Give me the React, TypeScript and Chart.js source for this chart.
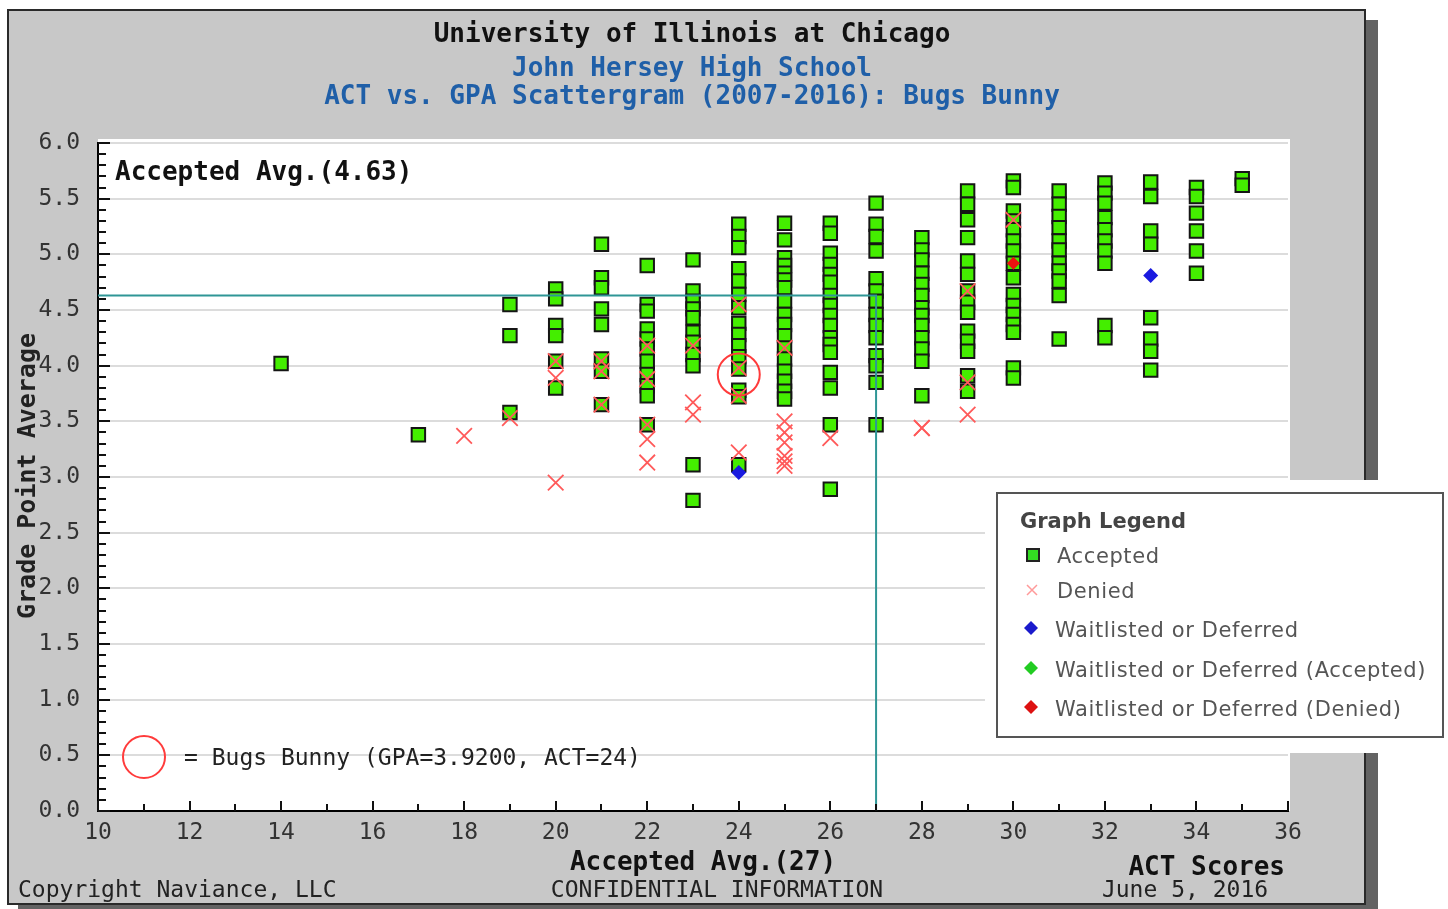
import React, { useEffect, useRef } from 'react';
import { Chart, registerables } from 'chart.js';

Chart.register(...registerables);

// ---------- DATA ----------
const accepted: [number, number][] = [
  [14, 4.02],
  [17, 3.38],
  [19, 4.55], [19, 4.27], [19, 3.58],
  [20, 4.69], [20, 4.6], [20, 4.36], [20, 4.27], [20, 4.04], [20, 3.8],
  [21, 5.09], [21, 4.79], [21, 4.7], [21, 4.51], [21, 4.37], [21, 4.06], [21, 3.95], [21, 3.65],
  [22, 4.9], [22, 4.55], [22, 4.49], [22, 4.33], [22, 4.24], [22, 4.15], [22, 4.04], [22, 3.92], [22, 3.82], [22, 3.73], [22, 3.47],
  [23, 4.95], [23, 4.67], [23, 4.58], [23, 4.51], [23, 4.43], [23, 4.3], [23, 4.21], [23, 4.1], [23, 4.0], [23, 3.11], [23, 2.79],
  [24, 5.27], [24, 5.16], [24, 5.06], [24, 4.87], [24, 4.76], [24, 4.64], [24, 4.52], [24, 4.38], [24, 4.28], [24, 4.18], [24, 4.08], [24, 3.97], [24, 3.78], [24, 3.72], [24, 3.11],
  [25, 5.28], [25, 5.13], [25, 4.97], [25, 4.9], [25, 4.83], [25, 4.77], [25, 4.7], [25, 4.58], [25, 4.46], [25, 4.37], [25, 4.27], [25, 4.16], [25, 4.06], [25, 3.95], [25, 3.86], [25, 3.77], [25, 3.7],
  [26, 5.28], [26, 5.19], [26, 5.01], [26, 4.91], [26, 4.82], [26, 4.75], [26, 4.63], [26, 4.54], [26, 4.45], [26, 4.36], [26, 4.25], [26, 4.19], [26, 4.12], [26, 3.94], [26, 3.8], [26, 3.47], [26, 2.89],
  [27, 5.46], [27, 5.27], [27, 5.16], [27, 5.03], [27, 4.78], [27, 4.67], [27, 4.58], [27, 4.46], [27, 4.36], [27, 4.25], [27, 4.09], [27, 4.0], [27, 3.85], [27, 3.47],
  [28, 5.15], [28, 5.04], [28, 4.95], [28, 4.83], [28, 4.73], [28, 4.63], [28, 4.52], [28, 4.45], [28, 4.36], [28, 4.25], [28, 4.15], [28, 4.04], [28, 3.73],
  [29, 5.57], [29, 5.45], [29, 5.31], [29, 5.15], [29, 4.94], [29, 4.82], [29, 4.67], [29, 4.57], [29, 4.48], [29, 4.31], [29, 4.22], [29, 4.13], [29, 3.91], [29, 3.77],
  [30, 5.66], [30, 5.6], [30, 5.39], [30, 5.3], [30, 5.22], [30, 5.12], [30, 5.03], [30, 4.92], [30, 4.79], [30, 4.64], [30, 4.54], [30, 4.46], [30, 4.37], [30, 4.3], [30, 3.98], [30, 3.89],
  [31, 5.57], [31, 5.45], [31, 5.34], [31, 5.24], [31, 5.12], [31, 5.04], [31, 4.92], [31, 4.85], [31, 4.76], [31, 4.63], [31, 4.24],
  [32, 5.64], [32, 5.55], [32, 5.46], [32, 5.33], [32, 5.22], [32, 5.12], [32, 5.03], [32, 4.92], [32, 4.36], [32, 4.25],
  [33, 5.65], [33, 5.52], [33, 5.21], [33, 5.09], [33, 4.43], [33, 4.24], [33, 4.13], [33, 3.96],
  [34, 5.6], [34, 5.52], [34, 5.37], [34, 5.21], [34, 5.03], [34, 4.83],
  [35, 5.68], [35, 5.62],
];

const denied: [number, number][] = [
  [18, 3.37],
  [19, 3.53],
  [20, 4.04], [20, 3.89], [20, 2.95],
  [21, 4.04], [21, 3.95], [21, 3.65],
  [22, 4.18], [22, 3.88], [22, 3.47], [22, 3.34], [22, 3.13],
  [23, 4.18], [23, 3.67], [23, 3.56],
  [24, 4.55], [24, 3.98], [24, 3.73], [24, 3.22],
  [25, 4.16], [25, 3.5], [25, 3.4], [25, 3.31], [25, 3.19], [25, 3.14], [25, 3.1],
  [26, 3.35],
  [28, 3.44], [28, 3.44],
  [29, 4.67], [29, 3.85], [29, 3.56],
  [30, 5.31],
];

const waitlisted: [number, number][] = [[24, 3.04], [33, 4.81]];
const waitlistedAccepted: [number, number][] = [];
const waitlistedDenied: [number, number][] = [[30, 4.92]];
const student: [number, number][] = [[24, 3.92]];

const avgGpa = 4.63;
const avgAct = 27;

const titleText = 'University of Illinois at Chicago';
const subtitleText = 'John Hersey High School';
const subtitle2Text = 'ACT vs. GPA Scattergram (2007-2016): Bugs Bunny';
const yTitle = 'Grade Point Average';
const xTitle = 'ACT Scores';
const studentLabel = '= Bugs Bunny (GPA=3.9200, ACT=24)';
const footerLeft = 'Copyright Naviance, LLC';
const footerCenter = 'CONFIDENTIAL INFORMATION';
const footerRight = 'June 5, 2016';
const legendTitle = 'Graph Legend';
const legendLabels = [
  'Accepted',
  'Denied',
  'Waitlisted or Deferred',
  'Waitlisted or Deferred (Accepted)',
  'Waitlisted or Deferred (Denied)',
];

// ---------- STYLE ----------
const MONO = "'DejaVu Sans Mono', 'Liberation Mono', monospace";
const SANS = "'DejaVu Sans', sans-serif";
const GREEN = '#44ee00';
const XRED = '#ff5a5a';
const TEAL = '#2f9696';

const toPts = (a: [number, number][]) => a.map(([x, y]) => ({ x, y }));

function diamond(ctx: CanvasRenderingContext2D, x: number, y: number, r: number, color: string) {
  ctx.beginPath();
  ctx.moveTo(x - r, y);
  ctx.lineTo(x, y - r);
  ctx.lineTo(x + r, y);
  ctx.lineTo(x, y + r);
  ctx.closePath();
  ctx.fillStyle = color;
  ctx.fill();
}

const decor = {
  id: 'decor',
  beforeDraw(chart: any) {
    const ctx: CanvasRenderingContext2D = chart.ctx;
    const { left, top, right, bottom } = chart.chartArea;
    ctx.save();
    ctx.fillStyle = '#ffffff';
    ctx.fillRect(0, 0, chart.width, chart.height);
    // shadow
    ctx.fillStyle = '#636363';
    ctx.fillRect(1366, 20, 12, 889);
    ctx.fillRect(18, 904, 1360, 5);
    // panel
    ctx.fillStyle = '#c8c8c8';
    ctx.fillRect(8, 10, 1357, 894);
    ctx.strokeStyle = '#2a2a2a';
    ctx.lineWidth = 2;
    ctx.strokeRect(8, 10, 1357, 894);
    // plot background
    ctx.fillStyle = '#ffffff';
    ctx.fillRect(left, top - 4, right + 2 - left, bottom - top + 4);
    ctx.restore();
  },
  afterDatasetsDraw(chart: any) {
    const ctx: CanvasRenderingContext2D = chart.ctx;
    const xs = chart.scales.x;
    const ys = chart.scales.y;
    const { left, bottom } = chart.chartArea;
    ctx.save();
    // average lines
    ctx.strokeStyle = TEAL;
    ctx.lineWidth = 2;
    const ay = ys.getPixelForValue(avgGpa);
    const ax = xs.getPixelForValue(avgAct);
    ctx.beginPath();
    ctx.moveTo(left, ay);
    ctx.lineTo(ax, ay);
    ctx.lineTo(ax, bottom);
    ctx.stroke();
    ctx.restore();
  },
  afterDraw(chart: any) {
    const ctx: CanvasRenderingContext2D = chart.ctx;
    const xs = chart.scales.x;
    const ys = chart.scales.y;
    const { left, bottom } = chart.chartArea;
    ctx.save();

    // tick marks (inside)
    ctx.strokeStyle = '#111';
    ctx.lineWidth = 2;
    ctx.beginPath();
    for (let v = 10; v <= 36; v++) {
      const px = Math.round(xs.getPixelForValue(v));
      const len = v % 2 === 0 ? 10 : 7;
      ctx.moveTo(px, bottom);
      ctx.lineTo(px, bottom - len);
    }
    for (let i = 0; i <= 60; i++) {
      const py = Math.round(ys.getPixelForValue(i / 10));
      const len = i % 5 === 0 ? 12 : 8;
      ctx.moveTo(left, py);
      ctx.lineTo(left + len, py);
    }
    ctx.stroke();

    // titles
    ctx.textAlign = 'center';
    ctx.textBaseline = 'alphabetic';
    ctx.font = `bold 26px ${MONO}`;
    ctx.fillStyle = '#111';
    ctx.fillText(titleText, 692, 42);
    ctx.fillStyle = '#1f5fa8';
    ctx.fillText(subtitleText, 692, 76);
    ctx.fillText(subtitle2Text, 692, 104);

    // accepted avg labels
    ctx.fillStyle = '#111';
    ctx.textAlign = 'left';
    ctx.fillText(`Accepted Avg.(${avgGpa.toFixed(2)})`, 115, 180);
    ctx.textAlign = 'center';
    ctx.fillText(`Accepted Avg.(${avgAct})`, 703, 870);
    ctx.textAlign = 'right';
    ctx.fillText(xTitle, 1285, 875);

    // y title
    ctx.save();
    ctx.translate(28, 476);
    ctx.rotate(-Math.PI / 2);
    ctx.textAlign = 'center';
    ctx.textBaseline = 'middle';
    ctx.font = `bold 25px ${MONO}`;
    ctx.fillStyle = '#222';
    ctx.fillText(yTitle, 0, 0);
    ctx.restore();

    // footer
    ctx.font = `23px ${MONO}`;
    ctx.fillStyle = '#222';
    ctx.textAlign = 'left';
    ctx.fillText(footerLeft, 18, 897);
    ctx.textAlign = 'center';
    ctx.fillText(footerCenter, 717, 897);
    ctx.fillText(footerRight, 1185, 897);

    // student key
    ctx.strokeStyle = '#ff3b3b';
    ctx.lineWidth = 2;
    ctx.beginPath();
    ctx.arc(144, 757, 21, 0, Math.PI * 2);
    ctx.stroke();
    ctx.fillStyle = '#222';
    ctx.textAlign = 'left';
    ctx.fillText(studentLabel, 184, 765);

    // legend patch + box
    ctx.fillStyle = '#ffffff';
    ctx.fillRect(985, 480, 463, 273);
    ctx.strokeStyle = '#555';
    ctx.lineWidth = 2;
    ctx.strokeRect(997, 493, 446, 244);
    ctx.fillStyle = '#444';
    ctx.font = `bold 21px ${SANS}`;
    ctx.fillText(legendTitle, 1020, 528);

    const rows = [563, 598, 637, 677, 716];
    // accepted square
    ctx.fillStyle = '#33dd22';
    ctx.fillRect(1027, 549, 12, 12);
    ctx.strokeStyle = '#222';
    ctx.lineWidth = 2;
    ctx.strokeRect(1027, 549, 12, 12);
    // denied x
    ctx.strokeStyle = '#ff9a9a';
    ctx.lineWidth = 1.5;
    ctx.beginPath();
    ctx.moveTo(1027, 585);
    ctx.lineTo(1037, 595);
    ctx.moveTo(1037, 585);
    ctx.lineTo(1027, 595);
    ctx.stroke();
    diamond(ctx, 1031, 628, 7, '#1a1acc');
    diamond(ctx, 1031, 668, 7, '#22cc22');
    diamond(ctx, 1031, 707, 7, '#dd1111');
    ctx.font = `21px ${SANS}`;
    ctx.fillStyle = '#555';
    (ctx as any).letterSpacing = '0.6px';
    const lx = [1057, 1057, 1055, 1055, 1055];
    legendLabels.forEach((t, i) => ctx.fillText(t, lx[i], rows[i]));
    (ctx as any).letterSpacing = '0px';

    ctx.restore();
  },
};

export default function App() {
  const ref = useRef<HTMLCanvasElement>(null);
  useEffect(() => {
    if (!ref.current) return;
    const tickFont = { family: MONO, size: 23 };
    const chart = new Chart(ref.current, {
      type: 'scatter',
      data: {
        datasets: [
          {
            label: 'Student',
            data: toPts(student),
            pointStyle: 'circle',
            pointRadius: 21,
            backgroundColor: 'rgba(0,0,0,0)',
            borderColor: '#ff3b3b',
            borderWidth: 2,
            order: 0,
          },
          {
            label: 'Waitlisted or Deferred (Denied)',
            data: toPts(waitlistedDenied),
            pointStyle: 'rectRot',
            pointRadius: 6.5,
            backgroundColor: '#ee1111',
            borderColor: '#ee1111',
            borderWidth: 0,
            order: 1,
          },
          {
            label: 'Waitlisted or Deferred (Accepted)',
            data: toPts(waitlistedAccepted),
            pointStyle: 'rectRot',
            pointRadius: 7,
            backgroundColor: '#22cc22',
            borderWidth: 0,
            order: 1,
          },
          {
            label: 'Waitlisted or Deferred',
            data: toPts(waitlisted),
            pointStyle: 'rectRot',
            pointRadius: 7.5,
            backgroundColor: '#1a1ae0',
            borderColor: '#1a1ae0',
            borderWidth: 0,
            order: 1,
          },
          {
            label: 'Denied',
            data: toPts(denied),
            pointStyle: 'crossRot',
            pointRadius: 11,
            backgroundColor: XRED,
            borderColor: XRED,
            borderWidth: 1.8,
            order: 3,
          },
          {
            label: 'Accepted',
            data: toPts(accepted),
            pointStyle: 'rect',
            pointRadius: 9.5,
            backgroundColor: GREEN,
            borderColor: '#151515',
            borderWidth: 2,
            order: 4,
          },
        ],
      },
      options: {
        responsive: false,
        animation: false,
        devicePixelRatio: 1,
        events: [],
        layout: { padding: { left: 0, right: 160, top: 143, bottom: 0 } },
        plugins: {
          legend: { display: false },
          tooltip: { enabled: false },
          title: { display: false },
        },
        scales: {
          x: {
            type: 'linear',
            min: 10,
            max: 36,
            ticks: {
              stepSize: 2,
              font: tickFont,
              color: '#333',
              padding: 8,
              maxRotation: 0,
            },
            grid: { display: true, drawOnChartArea: false, drawTicks: false },
            border: { display: true, color: '#000', width: 2 },
            afterFit: (s: any) => {
              s.height = 98;
            },
          },
          y: {
            type: 'linear',
            min: 0,
            max: 6,
            ticks: {
              stepSize: 0.5,
              font: tickFont,
              color: '#333',
              padding: 18,
              callback: (v: any) => Number(v).toFixed(1),
            },
            grid: { color: '#dcdcdc', lineWidth: 2, drawTicks: false },
            border: { display: true, color: '#000', width: 2 },
            afterFit: (s: any) => {
              s.width = 98;
            },
          },
        },
      },
      plugins: [decor],
    });
    return () => chart.destroy();
  }, []);

  return (
    <div style={{ position: 'fixed', left: 0, top: 0, width: 1448, height: 909, background: '#fff' }}>
      <canvas ref={ref} width={1448} height={909} style={{ display: 'block', width: 1448, height: 909 }} />
    </div>
  );
}
